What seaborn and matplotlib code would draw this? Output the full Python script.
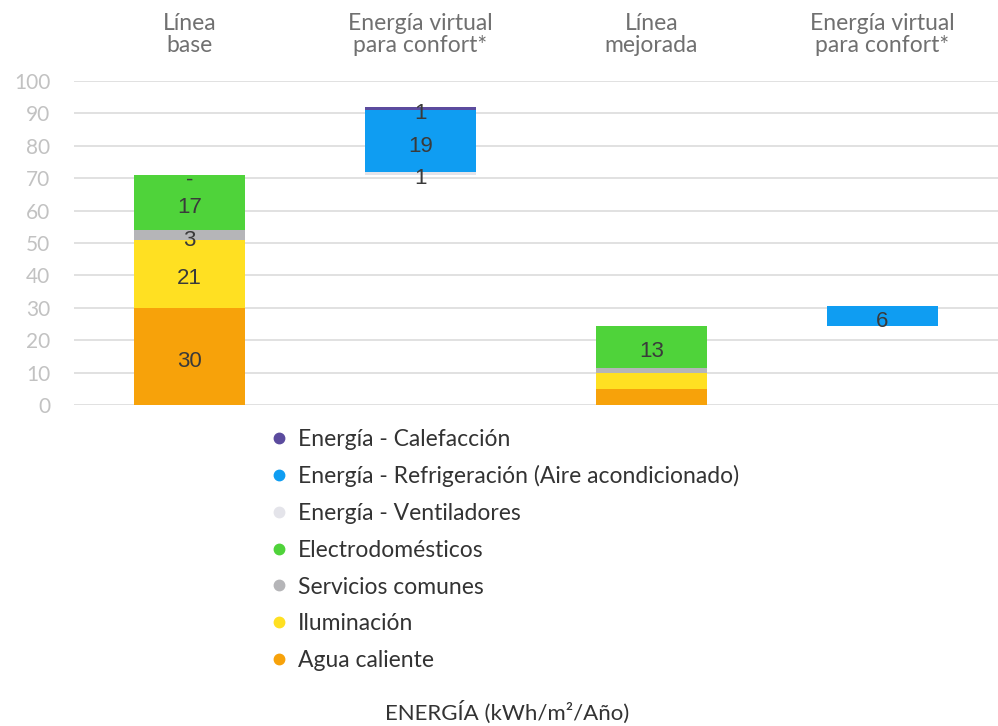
import matplotlib
matplotlib.use("Agg")
import matplotlib.pyplot as plt
from matplotlib.lines import Line2D
import numpy as np
import pandas as pd
import seaborn as sns

# Scenario columns
categories = ["Línea\nbase", "Energía virtual\npara confort*",
              "Línea\nmejorada", "Energía virtual\npara confort*"]

# Stack order from the bottom up (kWh/m²/año)
series_names = ["Agua caliente", "Iluminación", "Servicios comunes",
                "Electrodomésticos", "Energía - Ventiladores",
                "Energía - Refrigeración (Aire acondicionado)",
                "Energía - Calefacción"]
agua = [30, 0, 5, 0]
iluminacion = [21, 0, 5, 0]
servicios = [3, 0, 1.5, 0]
electro = [17, 0, 13, 0]
ventiladores = [0, 1, 0, 0]
refrigeracion = [0, 19, 0, 6]
calefaccion = [0, 1, 0, 0]

# Floating columns start at the top of the preceding column
offsets = [0, 71, 0, 24.5]

# Printed segment labels (None = not labelled)
labels_agua = ["30", None, None, None]
labels_ilum = ["21", None, None, None]
labels_serv = ["3", None, None, None]
labels_electro = ["17", None, "13", None]
labels_vent = ["-", "1", None, None]
labels_refr = [None, "19", None, "6"]
labels_calef = [None, "1", None, None]

colors = ["#F7A20A", "#FFE022", "#B5B5B8", "#4FD33A", "#E4E4EA",
          "#0F9DF2", "#5B4B9E"]

stack = [agua, iluminacion, servicios, electro, ventiladores,
         refrigeracion, calefaccion]
stack_labels = [labels_agua, labels_ilum, labels_serv, labels_electro,
                labels_vent, labels_refr, labels_calef]

sns.set_theme(style="white")
plt.rcParams["font.family"] = ["Lato", "DejaVu Sans"]

fig = plt.figure(figsize=(9.98, 7.26), dpi=100)
ax = fig.add_axes([74 / 998, 1 - 405 / 726, 1 - 74 / 998, 324 / 726])

x_idx = list(range(len(categories)))
bottoms = np.array(offsets, dtype=float)
for name, vals, col, labs in zip(series_names, stack, colors, stack_labels):
    vals = np.array(vals, dtype=float)
    df = pd.DataFrame({"cat": x_idx, "val": vals})
    sns.barplot(data=df, x="cat", y="val", order=x_idx, bottom=bottoms,
                color=col, saturation=1, width=0.48, linewidth=0, ax=ax,
                zorder=3)
    for i, lab in enumerate(labs):
        if lab is None:
            continue
        yc = bottoms[i] + vals[i] / 2 - 1.6
        ax.text(i, yc, lab, ha="center", va="center", fontsize=16,
                color="#3a3a3a", family=["Liberation Sans", "DejaVu Sans"],
                zorder=5)
    bottoms = bottoms + vals

ax.set_xlim(-0.5, 3.5)
ax.set_ylim(0, 100)
ax.set_yticks(range(0, 101, 10))
ax.yaxis.grid(True, color="#d9d9d9", linewidth=1.1, zorder=0)
ax.set_axisbelow(True)
for s in ax.spines.values():
    s.set_visible(False)
ax.tick_params(axis="y", length=0, pad=17, labelsize=15, labelcolor="#c2c2c2")
ax.xaxis.tick_top()
ax.set_xticks(x_idx)
ax.set_xticklabels(categories, fontsize=16.5, color="#707070", linespacing=1.08)
ax.tick_params(axis="x", length=0, pad=18)
ax.set_xlabel("")
ax.set_ylabel("")

# Legend (listed top-down in reverse stack order)
handles = [Line2D([0], [0], marker="o", linestyle="", markersize=7.5,
                  markerfacecolor=c, markeredgecolor=c)
           for c in colors[::-1]]
fig.legend(handles, series_names[::-1], loc="upper left",
           bbox_to_anchor=(245 / 998, 1 - 408 / 726), frameon=False,
           fontsize=16.5, labelspacing=0.685, handletextpad=0.2,
           handlelength=1.2, labelcolor="#333333")

fig.text(507 / 998, 1 - 712 / 726, "ENERGÍA (kWh/m²/Año)", ha="center",
         va="center", fontsize=16, color="#333333")

fig.savefig("out.png", dpi=100)
